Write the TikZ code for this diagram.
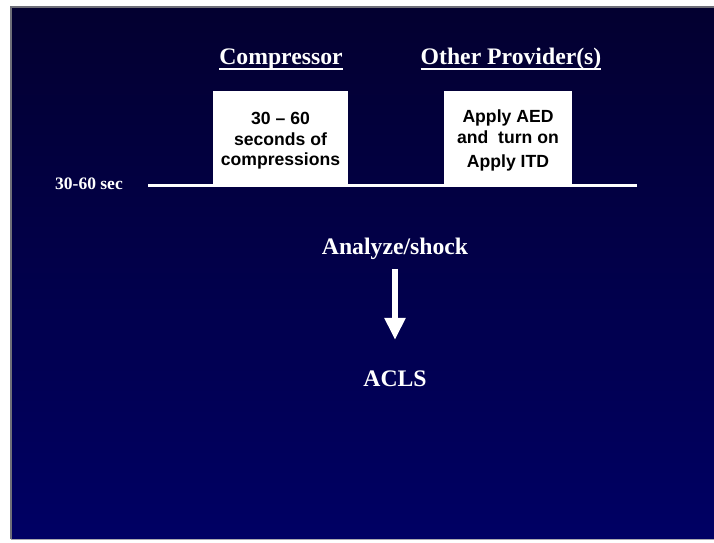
\documentclass[tikz,border=0pt]{standalone}
\usepackage{fontspec}
\setmainfont{Liberation Serif}
\newfontfamily\arialfont{Liberation Sans}
\usetikzlibrary{arrows.meta}
\definecolor{navytop}{RGB}{3,0,48}
\definecolor{navybot}{RGB}{0,0,100}
\definecolor{rimgray}{RGB}{110,110,120}
\tikzset{
  head/.style={text=white, inner sep=0pt, font=\fontsize{23.7}{28}\selectfont\bfseries},
  stepbox/.style={fill=white, draw=none, align=center, inner sep=0pt,
    font=\arialfont\fontsize{17.6}{20.5}\selectfont\bfseries, text=black},
  small/.style={text=white, inner sep=0pt, font=\fontsize{17.5}{20}\selectfont\bfseries},
  timeline/.style={white, line width=3pt},
  uline/.style={white, line width=2pt},
  bigarrow/.style={white, line width=6pt, -{Triangle[width=20pt,length=22pt]}}
}
\begin{document}
\begin{tikzpicture}[x=1pt,y=-1pt]
\useasboundingbox (0,0) rectangle (714,542);
\fill[white] (0,0) rectangle (714,542);
\shade[top color=navytop, bottom color=navybot] (11,7) rectangle (714,539);
\draw[rimgray, line width=1.5pt] (11,539) -- (11,7) -- (714,7);
\draw[rimgray!60, line width=1pt] (11,539.5) -- (714,539.5);

\node[head] (h1) at (281,59) {Compressor};
\node[head] (h2) at (511,59) {Other Provider(s)};
\draw[uline] ([yshift=-4.5pt]h1.base west) -- ([yshift=-4.5pt]h1.base east);
\draw[uline] ([yshift=-4.5pt]h2.base west) -- ([yshift=-4.5pt]h2.base east);

\node[stepbox, minimum width=135pt, minimum height=94pt] (b1) at (280.5,138)
  {\parbox{130pt}{\centering\vspace*{6pt}30 – 60\\seconds of\\compressions}};
\node[stepbox, minimum width=128pt, minimum height=94pt] (b2) at (508,138)
  {\parbox{125pt}{\centering\vspace*{5pt}Apply AED\\and~ turn on\\[4pt]Apply ITD}};

\coordinate (tl) at (148,185);
\coordinate (tr) at (637,185);
\draw[timeline] (tl) -- (tr);
\node[small] (lbl) at (89,184) {30-60 sec};

\node[head] (an) at (395,249) {Analyze/shock};
\node[head] (acls) at (395,379) {ACLS};
\draw[bigarrow, shorten <=9pt, shorten >=31pt] (an.south) -- (acls.north);
\end{tikzpicture}
\end{document}
